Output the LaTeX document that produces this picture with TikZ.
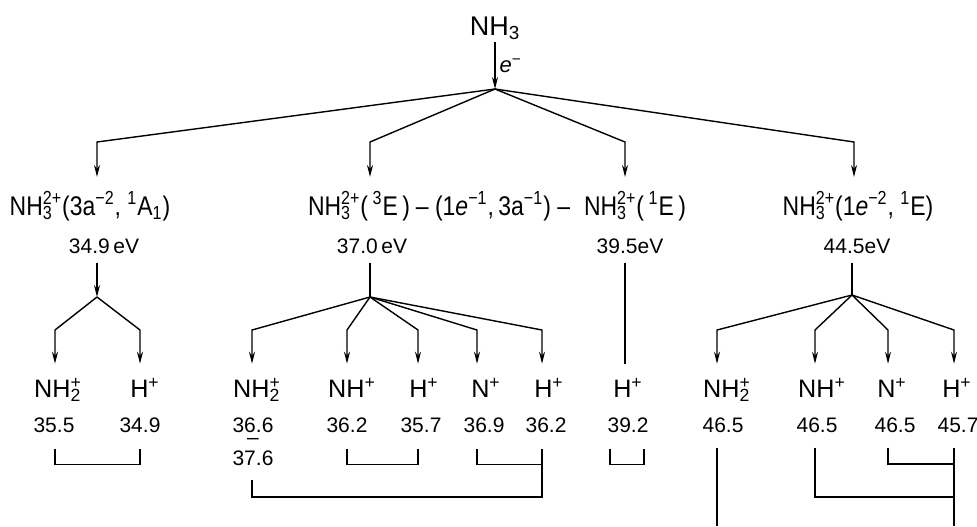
\documentclass[tikz,border=0pt]{standalone}
\usepackage{fontspec}
\setmainfont{Liberation Sans}
\newfontfamily\condsf{Liberation Sans}[FakeStretch=0.85]
\usetikzlibrary{arrows.meta,calc}

% stacked sub/superscript
\newcommand{\sbsp}[2]{\makebox[0pt][l]{\textsubscript{#1}}\textsuperscript{#2}}

\begin{document}
\begin{tikzpicture}[x=0.5pt, y=-0.5pt,
  link/.style={line width=0.7pt},
  down/.style={link, -{Stealth[length=6pt,width=3pt]}},
  tip/.style={shorten >=7pt},
  state/.style={font=\condsf\fontsize{13.5}{15}\selectfont, anchor=base, inner sep=0pt},
  ev/.style={font=\fontsize{10.5}{12}\selectfont, anchor=base, inner sep=0pt},
  ion/.style={font=\fontsize{12.6}{14}\selectfont, anchor=base, inner sep=0pt},
  num/.style={font=\fontsize{10.5}{12}\selectfont, anchor=base, inner sep=0pt}]
  \useasboundingbox (0,0) rectangle (977,526);

  % parent molecule and electron impact
  \node[anchor=base, inner sep=1pt, font=\fontsize{13.5}{15}\selectfont] (nh3) at (495,35) {NH\textsubscript{3}};
  \coordinate (split) at (495,89);
  \draw[down] (nh3.south) -- node[right, inner sep=2pt, font=\fontsize{11}{13}\selectfont] {\textit{e}\textsuperscript{−}} (split);

  % dication states
  \coordinate (c1) at (97,142);
  \coordinate (c2) at (370,142);
  \coordinate (c3) at (625,142);
  \coordinate (c4) at (854,142);
  \node[state] (s1) at (90,215) {NH\sbsp{3}{2+}(3a\textsuperscript{−2}, \textsuperscript{1}A\textsubscript{1})};
  \node[state] (s2) at (359,215) {NH\sbsp{3}{2+}(\,\textsuperscript{3}E\,)};
  \node[state] (mid) at (493,215) {– (1\textit{e}\textsuperscript{−1},\,3a\textsuperscript{−1}) –};
  \node[state] (s3) at (635,215) {NH\sbsp{3}{2+}(\,\textsuperscript{1}E\,)};
  \node[state] (s4) at (858,215) {NH\sbsp{3}{2+}(1\textit{e}\textsuperscript{−2}, \textsuperscript{1}E)};
  \foreach \i in {1,...,4}
    \draw[down, tip] (split) -- (c\i) -- (c\i |- s\i.north);

  % energies
  \node[ev] (e1) at (104,253) {34.9\,eV};
  \node[ev] (e2) at (372,253) {37.0\,eV};
  \node[ev] (e3) at (630,253) {39.5eV};
  \node[ev] (e4) at (857,253) {44.5eV};

  % fragmentation junctions
  \coordinate (j1) at (97,297);
  \coordinate (j2) at (370,297);
  \coordinate (j4) at (852,295);
  \draw[down] ($(j1|-e1.south)+(0,9)$) -- (j1);
  \draw[link] ($(j2|-e2.south)+(0,9)$) -- (j2);
  \draw[link] ($(j4|-e4.south)+(0,9)$) -- (j4);

  % fragment ions
  \foreach \k/\x in {11/55, 12/140, 21/252, 22/347, 23/418,
                     24/477, 25/542, 41/717, 42/815, 43/888, 44/954}
    \coordinate (k\k) at (\x,330);
  \node[ion] (f11) at (58,397) {NH\sbsp{2}{+}};
  \node[ion] (f12) at (145,397) {H\textsuperscript{+}};
  \node[ion] (f21) at (257,397) {NH\sbsp{2}{+}};
  \node[ion] (f22) at (352,397) {NH\textsuperscript{+}};
  \node[ion] (f23) at (424,397) {H\textsuperscript{+}};
  \node[ion] (f24) at (486,397) {N\textsuperscript{+}};
  \node[ion] (f25) at (549,397) {H\textsuperscript{+}};
  \node[ion] (f31) at (628,397) {H\textsuperscript{+}};
  \node[ion] (f41) at (727,397) {NH\sbsp{2}{+}};
  \node[ion] (f42) at (822,397) {NH\textsuperscript{+}};
  \node[ion] (f43) at (892,397) {N\textsuperscript{+}};
  \node[ion] (f44) at (957,397) {H\textsuperscript{+}};
  \foreach \k in {11,12}
    \draw[down, tip] (j1) -- (k\k) -- (k\k |- f\k.north);
  \foreach \k in {21,...,25}
    \draw[down, tip] (j2) -- (k\k) -- (k\k |- f\k.north);
  \foreach \k in {41,...,44}
    \draw[down, tip] (j4) -- (k\k) -- (k\k |- f\k.north);
  \draw[link, tip] ($(c3|-e3.south)+(0,9)$) -- (c3 |- f31.north);

  % appearance energies
  \node[num] (v11) at (54,432) {35.5};
  \node[num] (v12) at (140,432) {34.9};
  \node[num] (v21) at (253,432) {\begin{tabular}[t]{@{}c@{}}36.6\\[-6pt]–\\[-1.5pt]37.6\end{tabular}};
  \node[num] (v22) at (347,432) {36.2};
  \node[num] (v23) at (421,432) {35.7};
  \node[num] (v24) at (484,432) {36.9};
  \node[num] (v25) at (546,432) {36.2};
  \node[num] (v31) at (628,432) {39.2};
  \node[num] (v41) at (723,432) {46.5};
  \node[num] (v42) at (817,432) {46.5};
  \node[num] (v43) at (895,432) {46.5};
  \node[num] (v44) at (958,432) {45.7};

  % coincidence brackets
  \draw[link] ($(k11|-v11.south)+(0,16)$) -- ++(0,16) -| ($(k12|-v12.south)+(0,16)$);
  \draw[link] ($(k22|-v22.south)+(0,16)$) -- ++(0,16) -| ($(k23|-v23.south)+(0,16)$);
  \draw[link] ($(k24|-v24.south)+(0,16)$) -- ++(0,16) -| ($(k25|-v25.south)+(0,16)$);
  \draw[link] ($(k21|-v21.base)+(0,48)$) -- ++(0,17) -| ($(k25|-v25.south)+(0,16)$);
  \draw[link] ($(v31.south)+(-18,16)$) -- ++(0,16) -- ++(34,0) -- ++(0,-16);
  \draw[link] ($(k41|-v41.south)+(0,15)$) -- (k41 |- 0,526);
  \draw[link] ($(k44|-v44.south)+(0,15)$) -- (k44 |- 0,526);
  \draw[link] ($(k42|-v42.south)+(0,15)$) |- (k44 |- 0,497);
  \draw[link] ($(k43|-v43.south)+(0,15)$) |- (k44 |- 0,464);
\end{tikzpicture}
\end{document}
